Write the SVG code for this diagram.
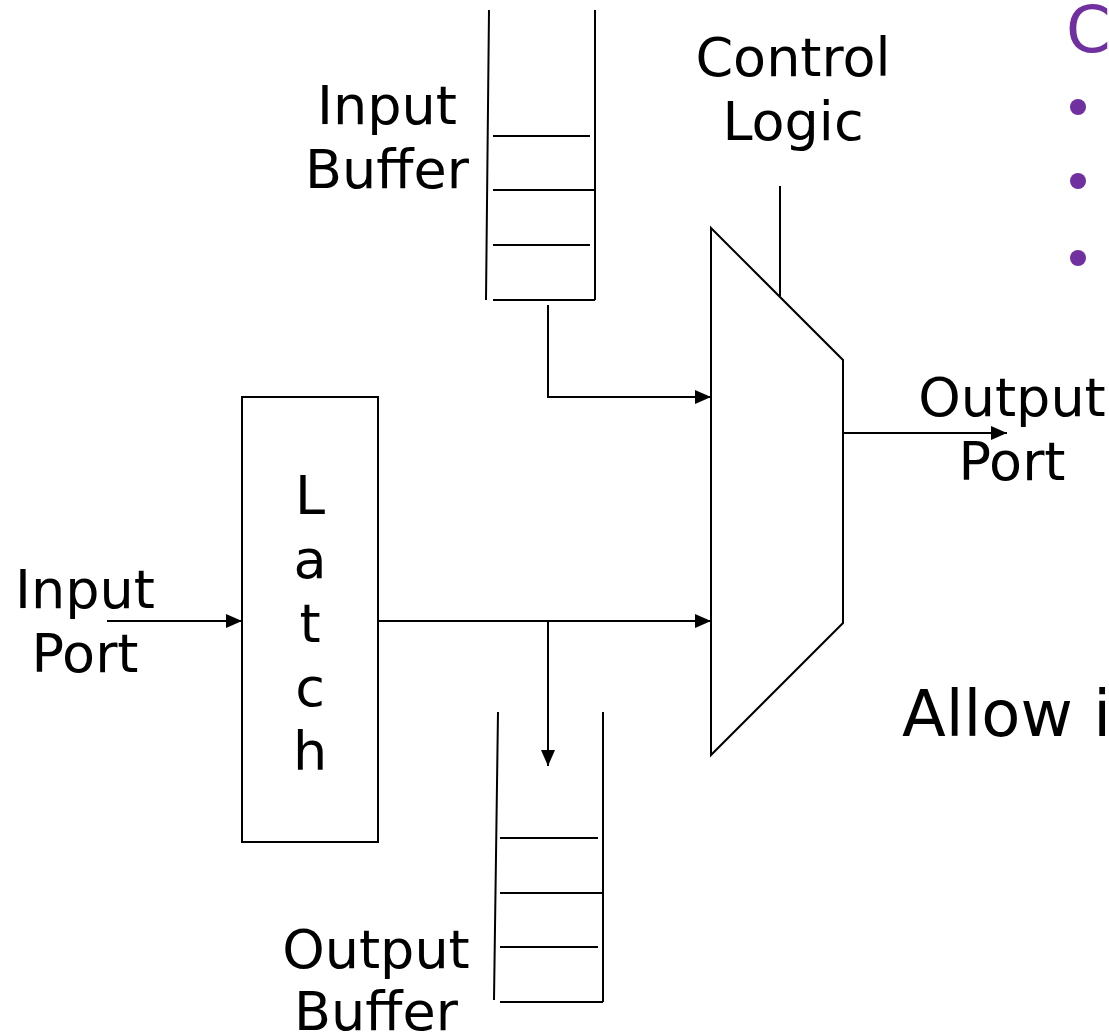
<svg xmlns="http://www.w3.org/2000/svg" width="1109" height="1036" viewBox="0 0 1109 1036">
<style>
.ln{stroke:#000;stroke-width:2;fill:none}
.t{font-family:"DejaVu Sans",Verdana,sans-serif;font-size:54px;fill:#000;text-anchor:middle}
.p{fill:#7030A0}
</style>
<defs>
<marker id="ah" viewBox="0 0 16 14" refX="16" refY="7" markerWidth="16" markerHeight="14" markerUnits="userSpaceOnUse" orient="auto">
<path d="M0,0 L16,7 L0,14 Z" fill="#000"/>
</marker>
</defs>
<rect width="1109" height="1036" fill="#fff"/>
<g id="input-buffer">
<path class="ln" d="M489,10 L486,300 M595,10 L595,300 M493,136 H590 M493,190 H595 M493,245 H590 M493,300 H595"/>
<text class="t" x="387" y="124">Input</text>
<text class="t" x="387" y="188">Buffer</text>
</g>
<g id="output-buffer">
<path class="ln" d="M498,712 L494,1000 M603,712 L603,1002 M500,838 H598 M500,893 H603 M500,947 H598 M500,1002 H603"/>
<text class="t" x="376" y="968">Output</text>
<text class="t" x="376" y="1030">Buffer</text>
</g>
<g id="latch">
<rect class="ln" x="242" y="397" width="136" height="445"/>
<text class="t" x="310" y="514">L</text>
<text class="t" x="310" y="578">a</text>
<text class="t" x="310" y="642">t</text>
<text class="t" x="310" y="706">c</text>
<text class="t" x="310" y="770">h</text>
</g>
<g id="mux">
<polygon class="ln" points="711,228 843,360 843,623 711,755"/>
</g>
<g id="control-logic">
<text class="t" x="793" y="76">Control</text>
<text class="t" x="793" y="140">Logic</text>
</g>
<g id="input-port">
<text class="t" x="85" y="608">Input</text>
<text class="t" x="85" y="672">Port</text>
</g>
<g id="output-port">
<text class="t" x="1012" y="416">Output</text>
<text class="t" x="1012" y="480">Port</text>
</g>
<g id="connectors">
<path class="ln" d="M548,305 V397 H711" marker-end="url(#ah)"/>
<path class="ln" d="M107,621 H242" marker-end="url(#ah)"/>
<path class="ln" d="M378,621 H711" marker-end="url(#ah)"/>
<path class="ln" d="M548,621 V766" marker-end="url(#ah)"/>
<path class="ln" d="M843,433 H1007" marker-end="url(#ah)"/>
<path class="ln" d="M780,186 V296"/>
</g>
<g id="slide-text">
<text x="1066" y="52" font-family="DejaVu Sans,Verdana,sans-serif" font-size="64" class="p">C</text>
<circle class="p" cx="1078" cy="107" r="8"/>
<circle class="p" cx="1078" cy="181" r="8"/>
<circle class="p" cx="1078" cy="258" r="8"/>
<text x="902" y="736" font-family="DejaVu Sans,Verdana,sans-serif" font-size="64" fill="#000">Allow i</text>
</g>
</svg>
